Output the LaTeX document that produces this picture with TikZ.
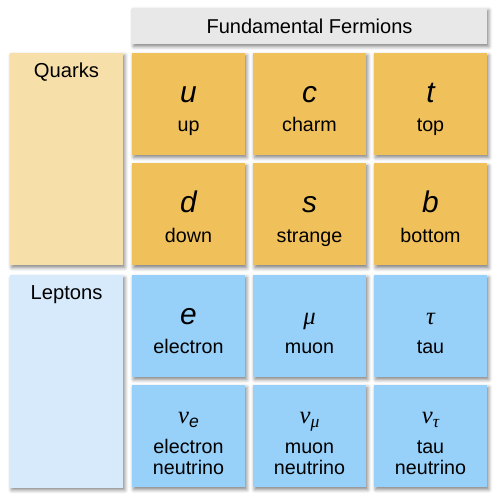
\documentclass[tikz,border=0pt]{standalone}
\usepackage{fontspec}
\setmainfont{Liberation Sans}
\newfontfamily\greekfont{Liberation Serif}
\usepackage{xcolor}
\usepackage{tikz}
\usetikzlibrary{positioning}
\usetikzlibrary{shadows.blur}
\definecolor{quarkcolor}{HTML}{F0C05A}
\definecolor{quarkside}{HTML}{F7DFAA}
\definecolor{leptoncolor}{HTML}{97D0F8}
\definecolor{leptonside}{HTML}{D6EAFC}
\definecolor{titlecolor}{HTML}{E8E8E8}
% symbol line: a tall strut keeps every cell's text at the same height
\newcommand{\symstrut}{\vrule height 18.4pt depth 5.7pt width 0pt}
\newcommand{\fsym}[1]{{\symstrut\fontsize{17}{19}\selectfont\itshape #1}}
\newcommand{\gsym}[1]{{\symstrut\greekfont\fontsize{14}{16}\selectfont\itshape #1}}
\newcommand{\gsub}[1]{\raisebox{-0.4ex}{\fontsize{10}{10}\selectfont\itshape #1}}
\tikzset{
  boxshadow/.style={blur shadow={shadow xshift=1pt, shadow yshift=-1.4pt, shadow blur steps=4, shadow opacity=50}},
  cell/.style={boxshadow, minimum width=2.26cm, minimum height=2.04cm, inner sep=0pt,
    align=center, font=\fontsize{11.2}{12}\selectfont},
  sidebox/.style={boxshadow, minimum width=2.26cm, minimum height=4.24cm, inner sep=0pt},
  sidelabel/.style={font=\fontsize{11.5}{13}\selectfont, inner sep=0pt, anchor=north},
  titlebox/.style={boxshadow, fill=titlecolor, minimum width=7.1cm, minimum height=0.72cm,
    inner sep=0pt, font=\fontsize{11.4}{13}\selectfont}
}
\begin{document}
\begin{tikzpicture}
\useasboundingbox (0,0) rectangle (10,10);
\node[titlebox] (title) at (6.19,9.48) {Fundamental Fermions};
\node[sidebox, fill=quarkside] (quarks) at (1.33,6.82) {};
\node[sidebox, fill=leptonside] (leptons) at (1.33,2.37) {};
\node[sidelabel, below=0.2cm of quarks.north] (quarkstext) {Quarks};
\node[sidelabel, below=0.2cm of leptons.north] (leptonstext) {Leptons};
% quarks
\foreach \n/\x/\y/\s/\t in {u/3.77/7.92/u/up, c/6.19/7.92/c/charm, t/8.61/7.92/t/top,
                          d/3.77/5.71/d/down, s/6.19/5.71/s/strange, b/8.61/5.71/b/bottom}
  \node[cell, fill=quarkcolor] (\n) at (\x,\y) {\fsym{\s}\\[1.7pt]\strut\t};
% leptons
\node[cell, fill=leptoncolor] (e) at (3.77,3.48) {\fsym{e}\\[1.7pt]\strut electron};
\node[cell, fill=leptoncolor] (mu) at (6.19,3.48) {\gsym{μ}\\[1.7pt]\strut muon};
\node[cell, fill=leptoncolor] (tau) at (8.61,3.48) {\gsym{τ}\\[1.7pt]\strut tau};
\node[cell, fill=leptoncolor] (nue) at (3.77,1.28) {\gsym{ν}\gsub{e}\\[1.7pt]\strut electron\\\strut neutrino};
\node[cell, fill=leptoncolor] (numu) at (6.19,1.28) {\gsym{ν}\gsub{\greekfont μ}\\[1.7pt]\strut muon\\\strut neutrino};
\node[cell, fill=leptoncolor] (nutau) at (8.61,1.28) {\gsym{ν}\gsub{\greekfont τ}\\[1.7pt]\strut tau\\\strut neutrino};
\end{tikzpicture}
\end{document}
